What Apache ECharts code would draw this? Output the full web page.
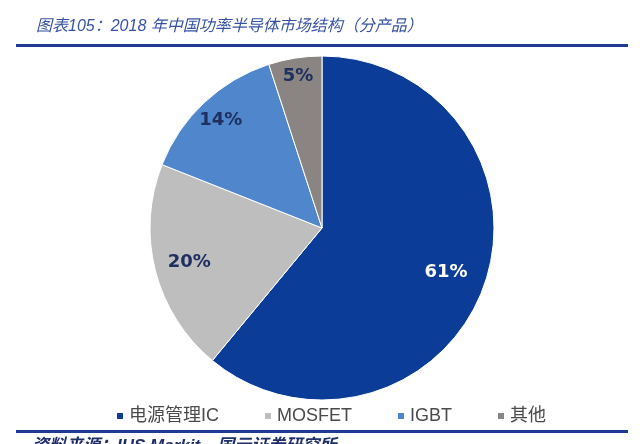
<!DOCTYPE html>
<html>
<head>
<meta charset="utf-8">
<script src="https://cdn.jsdelivr.net/npm/echarts@6/dist/echarts.min.js"></script>
<style>
  html, body { margin: 0; padding: 0; background: #fff; }
  #chart { width: 640px; height: 444px; }
</style>
</head>
<body>
<div id="chart"></div>
<script>
const categories = ['电源管理IC', 'MOSFET', 'IGBT', '其他']
const shares = [61, 20, 14, 5]
const colors = ['#0b3d98', '#bfbebe', '#4f86cc', '#8a8583']
// how far out each label sits, as a fraction of the radius (Excel best fit)
const labelDist = [0.74, 0.77, 0.83, 0.86]

const cx = 322
const cy = 228
const r = 172

const chart = echarts.init(document.getElementById('chart'), null, { renderer: 'canvas' })

chart.setOption({
  animation: false,
  color: colors,
  title: {
    text: '图表105：2018 年中国功率半导体市场结构（分产品）',
    left: 31,
    top: 14,
    textStyle: {
      color: '#3553a2',
      fontSize: 16,
      fontStyle: 'italic',
      fontWeight: 'normal',
      fontFamily: 'Liberation Sans, Noto Sans CJK SC'
    }
  },
  legend: {
    bottom: 14,
    left: 110,
    icon: 'rect',
    itemWidth: 8,
    itemHeight: 8,
    itemGap: 44,
    textStyle: {
      color: '#4a4a4a',
      fontSize: 18,
      fontFamily: 'Liberation Sans, Noto Sans CJK SC'
    },
    data: categories
  },
  graphic: [
    { type: 'rect', shape: { x: 16, y: 44, width: 612, height: 3 }, style: { fill: '#1f3a93' } },
    { type: 'rect', shape: { x: 16, y: 430, width: 612, height: 3 }, style: { fill: '#1f3a93' } },
    {
      type: 'text',
      left: 32,
      top: 438,
      style: {
        text: '资料来源：IHS Markit，国元证券研究所',
        fill: '#1f2f6a',
        font: 'italic bold 17px "Liberation Sans", "Noto Sans CJK SC"'
      }
    }
  ],
  series: [{
    type: 'pie',
    center: [cx, cy],
    radius: [0, r],
    startAngle: 90,
    clockwise: true,
    itemStyle: { borderColor: '#ffffff', borderWidth: 1 },
    label: {
      position: 'inside',
      formatter: '{c}%',
      fontSize: 18,
      fontWeight: 'bold',
      fontFamily: 'DejaVu Sans',
      color: '#1f3060'
    },
    labelLine: { show: false },
    labelLayout: (p) => {
      const k = labelDist[p.dataIndex] / 0.5
      const lx = p.labelRect.x + p.labelRect.width / 2
      const ly = p.labelRect.y + p.labelRect.height / 2
      return { x: cx + (lx - cx) * k, y: cy + (ly - cy) * k }
    },
    data: categories.map((name, i) => ({
      name,
      value: shares[i],
      label: i === 0 ? { color: '#ffffff' } : {}
    }))
  }]
})
</script>
</body>
</html>
